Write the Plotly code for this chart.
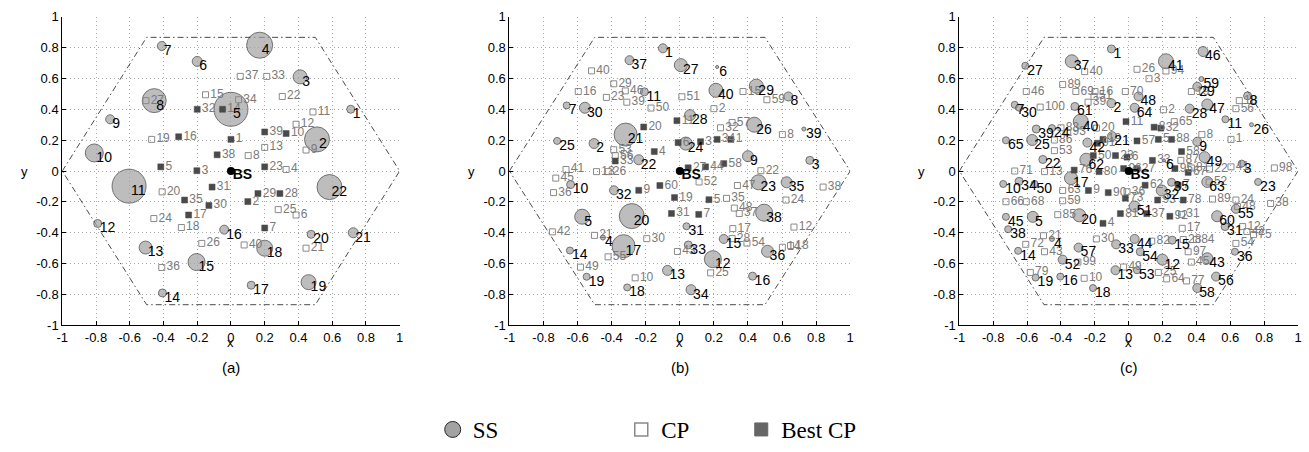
import plotly.graph_objects as go

W, H = 1309, 452

# ---------------- data ----------------
hex_x = [-1, -0.5, 0.5, 1, 0.5, -0.5, -1]
hex_y = [0, 0.866, 0.866, 0, -0.866, -0.866, 0]

bs_x = [0]
bs_y = [0]

# Panel (a)
a_ss_id = list(range(1, 23))
a_ss_x = [0.71, 0.51, 0.41, 0.17, 0.0, -0.20, -0.41, -0.455, -0.716, -0.81, -0.604,
          -0.79, -0.506, -0.406, -0.204, -0.04, 0.12, 0.20, 0.46, 0.475, 0.725, 0.584]
a_ss_y = [0.40, 0.205, 0.61, 0.815, 0.40, 0.71, 0.81, 0.456, 0.335, 0.117, -0.098,
          -0.34, -0.496, -0.79, -0.59, -0.38, -0.74, -0.50, -0.72, -0.41, -0.40, -0.104]
a_ss_d = [8, 25, 14, 26, 34, 10, 9, 24, 9, 18, 34, 8, 13, 8, 17, 9, 8, 16, 15, 8, 10, 25]

a_cp_id = [37, 33, 15, 34, 22, 11, 12, 19, 13, 8, 9, 4, 27, 20, 24, 18, 26, 36, 40, 25, 6, 21]
a_cp_x = [0.055, 0.212, -0.151, 0.045, 0.304, 0.486, 0.386, -0.47, 0.2, 0.102, 0.445,
          0.327, -0.504, -0.408, -0.457, -0.294, -0.173, -0.41, 0.078, 0.28, 0.386, 0.445]
a_cp_y = [0.613, 0.613, 0.494, 0.462, 0.483, 0.383, 0.303, 0.205, 0.153, 0.10, 0.136,
          0.01, 0.456, -0.135, -0.308, -0.366, -0.469, -0.625, -0.479, -0.25, -0.285, -0.50]

a_best_id = [32, 14, 39, 10, 16, 1, 38, 23, 5, 3, 31, 29, 28, 35, 2, 30, 17, 7]
a_best_x = [-0.20, -0.05, 0.2, 0.327, -0.31, 0.0, -0.082, 0.2, -0.416, -0.202, -0.112,
            0.16, 0.29, -0.275, 0.10, -0.131, -0.251, 0.2]
a_best_y = [0.40, 0.40, 0.253, 0.243, 0.222, 0.205, 0.105, 0.027, 0.027, 0.002, -0.104,
            -0.146, -0.146, -0.188, -0.198, -0.223, -0.285, -0.369]

# Panel (b)
b_ss_id = list(range(1, 41))
b_ss_x = [-0.099, -0.503, 0.763, -0.451, -0.573, 0.219, -0.664, 0.637, 0.40, -0.641,
          -0.208, 0.194, -0.072, -0.645, 0.258, 0.427, -0.33, -0.309, -0.547, -0.282,
          -0.318, -0.241, 0.462, 0.035, -0.72, 0.437, 0.006, 0.06, 0.449, -0.557,
          0.039, -0.386, 0.05, 0.066, 0.627, 0.515, -0.295, 0.495, 0.728, 0.212]
b_ss_y = [0.795, 0.178, 0.069, -0.431, -0.296, 0.674, 0.425, 0.483, 0.096, -0.088,
          0.513, -0.571, -0.644, -0.515, -0.44, -0.681, -0.487, -0.754, -0.685, -0.292,
          0.236, 0.073, -0.073, 0.178, 0.195, 0.30, 0.686, 0.362, 0.55, 0.41,
          -0.358, -0.125, -0.479, -0.769, -0.073, -0.52, 0.718, -0.27, 0.272, 0.523]
b_ss_d = [9, 10, 8, 5, 15, 3, 7, 9, 11, 8,
          8, 17, 10, 7, 9, 8, 23, 7, 7, 25,
          23, 10, 15, 13, 7, 15, 13, 11, 14, 11,
          7, 9, 8, 10, 11, 12, 9, 17, 4, 14]

b_cp_id = [40, 29, 16, 46, 23, 39, 50, 51, 2, 15, 59, 57, 32, 8, 53, 56, 41, 13, 26, 22,
           52, 47, 45, 36, 38, 24, 35, 48, 37, 42, 21, 30, 17, 12, 28, 54, 14, 18, 55,
           43, 49, 10, 25]
b_cp_x = [-0.518, -0.388, -0.596, -0.32, -0.431, -0.311, -0.169, 0.012, 0.2, 0.371,
          0.511, 0.307, 0.239, 0.602, -0.388, -0.379, -0.668, -0.489, -0.421, 0.476,
          0.113, 0.338, -0.728, -0.741, 0.841, 0.623, 0.274, 0.32, 0.349, -0.748,
          -0.501, -0.194, 0.311, 0.67, 0.307, 0.394, 0.602, 0.65, -0.421, -0.014,
          -0.583, -0.262, 0.181]
b_cp_y = [0.649, 0.565, 0.515, 0.519, 0.477, 0.446, 0.408, 0.481, 0.404, 0.515,
          0.462, 0.314, 0.28, 0.236, 0.138, 0.10, 0.01, -0.004, -0.004, 0.002,
          -0.071, -0.094, -0.046, -0.14, -0.104, -0.188, -0.177, -0.24, -0.275, -0.394,
          -0.417, -0.438, -0.373, -0.363, -0.438, -0.467, -0.494, -0.483, -0.556, -0.521,
          -0.623, -0.692, -0.66]

b_best_id = [20, 11, 6, 3, 34, 1, 4, 33, 58, 44, 27, 60, 9, 19, 5, 31, 7]
b_best_x = [-0.212, -0.017, -0.01, 0.122, 0.219, 0.30, -0.15, -0.379, 0.258, 0.151,
            0.049, -0.117, -0.241, -0.031, 0.171, -0.049, 0.111]
b_best_y = [0.285, 0.326, 0.184, 0.19, 0.205, 0.205, 0.126, 0.065, 0.048, 0.027,
            0.021, -0.094, -0.125, -0.172, -0.186, -0.275, -0.281]

# Panel (c)
c_ss_id = list(range(1, 66))
c_ss_x = [-0.102, -0.102, 0.667, -0.453, -0.566, 0.208, -0.673, 0.702, 0.405, -0.741,
          0.571, 0.199, -0.078, -0.653, 0.257, -0.404, -0.341, -0.211, -0.55, -0.292,
          -0.098, -0.507, 0.764, -0.453, -0.57, 0.725, -0.611, 0.36, 0.405, -0.647,
          0.569, 0.195, -0.074, -0.647, 0.253, 0.627, -0.336, -0.712, -0.546, -0.283,
          0.22, -0.244, 0.464, 0.035, -0.725, 0.439, 0.464, 0.058, 0.448, -0.556,
          0.035, -0.39, 0.049, 0.068, 0.633, 0.516, -0.296, 0.405, 0.429, 0.522,
          -0.318, -0.25, 0.464, 0.035, -0.725]
c_ss_y = [0.791, 0.439, 0.048, -0.44, -0.297, 0.069, 0.429, 0.487, 0.19, -0.084,
          0.335, -0.574, -0.643, -0.517, -0.448, -0.684, -0.046, -0.758, -0.69, -0.287,
          0.226, 0.075, -0.071, 0.278, 0.201, 0.30, 0.682, 0.404, 0.546, 0.41,
          -0.36, -0.126, -0.475, -0.067, -0.073, -0.523, 0.711, -0.377, 0.272, 0.32,
          0.711, 0.184, -0.565, -0.44, -0.297, 0.774, 0.431, 0.483, 0.09, -0.084,
          -0.23, -0.574, -0.643, -0.523, -0.245, -0.684, -0.496, -0.758, 0.596, -0.293,
          0.418, 0.073, -0.071, 0.41, 0.199]
c_ss_d = [8, 9, 7, 5, 11, 3, 7, 8, 9, 7,
          7, 11, 9, 7, 8, 7, 13, 7, 7, 13,
          9, 8, 7, 7, 11, 4, 7, 9, 9, 7,
          8, 11, 9, 8, 8, 7, 13, 7, 8, 15,
          15, 9, 11, 9, 7, 10, 11, 9, 11, 7,
          11, 9, 7, 8, 9, 9, 9, 9, 5, 11,
          8, 13, 11, 9, 7]

c_cp_id = [40, 46, 89, 69, 16, 51, 39, 100, 70, 26, 94, 3, 19, 2, 18, 56, 65, 86, 53, 83,
           93, 20, 71, 13, 63, 36, 66, 68, 59, 85, 21, 72, 43, 99, 30, 79, 10, 49, 31, 17,
           12, 42, 75, 82, 28, 84, 54, 97, 45, 25, 64, 77, 8, 1, 87, 81, 22, 41, 98, 52,
           89, 24, 48, 38]
c_cp_x = [-0.26, -0.605, -0.39, -0.312, -0.199, -0.205, -0.24, -0.523, -0.02, 0.049,
          0.22, 0.12, 0.37, 0.205, 0.653, 0.633, 0.269, -0.439, -0.439, -0.40,
          -0.36, -0.19, -0.673, -0.497, -0.39, -0.01, -0.725, -0.605, -0.39, -0.419,
          -0.503, -0.608, -0.497, -0.30, -0.191, -0.581, -0.263, -0.03, 0.312, 0.316,
          0.673, 0.698, 0.737, 0.136, 0.322, 0.40, 0.633, 0.351, 0.37, 0.175,
          0.224, 0.341, 0.432, 0.604, 0.308, 0.37, 0.477, 0.604, 0.86, 0.475,
          0.495, 0.633, 0.643, 0.838]
c_cp_y = [0.644, 0.515, 0.56, 0.515, 0.515, 0.483, 0.446, 0.414, 0.515, 0.659,
          0.648, 0.598, 0.515, 0.397, 0.456, 0.404, 0.32, 0.201, 0.132, 0.28,
          0.25, 0.278, 0.0, -0.004, -0.126, -0.134, -0.199, -0.199, -0.193, -0.283,
          -0.419, -0.475, -0.523, -0.59, -0.44, -0.657, -0.695, -0.622, -0.281, -0.371,
          -0.36, -0.392, -0.412, -0.454, -0.444, -0.444, -0.469, -0.523, -0.59, -0.657,
          -0.699, -0.712, 0.236, 0.205, 0.069, 0.02, 0.012, 0.027, 0.02, -0.071,
          -0.182, -0.188, -0.23, -0.21]

c_best_id = [11, 8, 32, 91, 19, 50, 23, 6, 76, 80, 96, 9, 90, 73, 4, 81, 57, 5, 88, 58,
             33, 95, 67, 27, 62, 7, 78, 93, 37, 92]
c_best_x = [-0.016, 0.15, 0.19, -0.185, -0.152, -0.209, -0.078, -0.01, -0.322, -0.175,
            -0.03, -0.238, -0.121, -0.02, -0.152, -0.049, 0.049, 0.175, 0.253, 0.312,
            0.14, 0.273, 0.351, 0.049, 0.097, 0.292, 0.322, 0.171, 0.107, 0.243]
c_best_y = [0.32, 0.284, 0.278, 0.18, 0.205, 0.10, 0.10, 0.09, 0.006, -0.004,
            0.016, -0.126, -0.14, -0.176, -0.339, -0.276, 0.195, 0.205, 0.205, 0.126,
            0.069, 0.016, -0.009, 0.016, -0.092, -0.092, -0.188, -0.188, -0.276, -0.293]

panel_names = ["(a)", "(b)", "(c)"]
tick_vals = [-1, -0.8, -0.6, -0.4, -0.2, 0, 0.2, 0.4, 0.6, 0.8, 1]
tick_text = ["-1", "-0.8", "-0.6", "-0.4", "-0.2", "0", "0.2", "0.4", "0.6", "0.8", "1"]

# ---------------- styling ----------------
SS_FILL = "#a2a2a2"
SS_EDGE = "#262626"
CP_EDGE = "#8a8a8a"
CP_TEXT = "#7a7a7a"
BEST_FILL = "#4a4a4a"
HEX_COL = "#4a4a4a"
FONT = "Liberation Sans"
SERIF = "Liberation Serif"

x_px = [(56.7, 396.7), (507.3, 850.7), (960.7, 1302.0)]
y_px = (10.0, 329.3)

panels = [
    (a_ss_id, a_ss_x, a_ss_y, a_ss_d, a_cp_id, a_cp_x, a_cp_y, a_best_id, a_best_x, a_best_y),
    (b_ss_id, b_ss_x, b_ss_y, b_ss_d, b_cp_id, b_cp_x, b_cp_y, b_best_id, b_best_x, b_best_y),
    (c_ss_id, c_ss_x, c_ss_y, c_ss_d, c_cp_id, c_cp_x, c_cp_y, c_best_id, c_best_x, c_best_y),
]

fig = go.Figure()

SS_DX, SS_DY = 0.012, -0.035
BS_DX, BS_DY = 0.01, -0.03

for i, (ssid, ssx, ssy, ssd, cpid, cpx, cpy, bid, bx, by) in enumerate(panels):
    xa = "x" if i == 0 else f"x{i+1}"
    ya = "y" if i == 0 else f"y{i+1}"
    fig.add_trace(go.Scatter(x=hex_x, y=hex_y, mode="lines", xaxis=xa, yaxis=ya,
                             line=dict(color=HEX_COL, width=1, dash="6px,3px,1.5px,3px"),
                             showlegend=False, hoverinfo="skip"))
    fig.add_trace(go.Scatter(x=ssx, y=ssy, mode="markers", xaxis=xa, yaxis=ya,
                             marker=dict(symbol="circle", size=ssd, color=SS_FILL,
                                         line=dict(color=SS_EDGE, width=0.9)),
                             showlegend=False, name="SS"))
    fig.add_trace(go.Scatter(x=cpx, y=cpy, mode="markers+text", xaxis=xa, yaxis=ya,
                             text=[str(v) for v in cpid], textposition="middle right",
                             textfont=dict(family=FONT, size=12, color=CP_TEXT),
                             marker=dict(symbol="square-open", size=6, color=CP_EDGE,
                                         line=dict(color=CP_EDGE, width=1)),
                             showlegend=False, name="CP", cliponaxis=False))
    fig.add_trace(go.Scatter(x=bx, y=by, mode="markers+text", xaxis=xa, yaxis=ya,
                             text=[str(v) for v in bid], textposition="middle right",
                             textfont=dict(family=FONT, size=12, color=CP_TEXT),
                             marker=dict(symbol="square", size=6, color=BEST_FILL,
                                         line=dict(color=BEST_FILL, width=0.5)),
                             showlegend=False, name="Best CP", cliponaxis=False))
    fig.add_trace(go.Scatter(x=[v + SS_DX for v in ssx], y=[v + SS_DY for v in ssy],
                             mode="text", xaxis=xa, yaxis=ya,
                             text=[str(v) for v in ssid], textposition="middle right",
                             textfont=dict(family=FONT, size=14, color="black"),
                             showlegend=False, hoverinfo="skip", cliponaxis=False))
    fig.add_trace(go.Scatter(x=bs_x, y=bs_y, mode="markers", xaxis=xa, yaxis=ya,
                             marker=dict(symbol="circle", size=8, color="black"),
                             showlegend=False, name="BS"))
    fig.add_trace(go.Scatter(x=[v + BS_DX for v in bs_x], y=[v + BS_DY for v in bs_y],
                             mode="text", xaxis=xa, yaxis=ya,
                             text=["<b>BS</b>"], textposition="middle right",
                             textfont=dict(family=FONT, size=14, color="black"),
                             showlegend=False, hoverinfo="skip"))

# legend entries
fig.add_trace(go.Scatter(x=[None], y=[None], mode="markers", name="SS", legend="legend",
                         marker=dict(symbol="circle", size=16, color=SS_FILL,
                                     line=dict(color=SS_EDGE, width=1))))
fig.add_trace(go.Scatter(x=[None], y=[None], mode="markers", name="CP", legend="legend2",
                         marker=dict(symbol="square-open", size=13, color=CP_EDGE,
                                     line=dict(color=CP_EDGE, width=1.5))))
fig.add_trace(go.Scatter(x=[None], y=[None], mode="markers", name="Best CP", legend="legend2",
                         marker=dict(symbol="square", size=13, color="#666666",
                                     line=dict(color="#666666", width=1))))

axis_common = dict(range=[-1, 1], tickmode="array", tickvals=tick_vals, ticktext=tick_text,
                   showgrid=True, gridcolor="#a9a9a9", griddash="1px,3px", gridwidth=1,
                   zeroline=False, showline=True, linecolor="black", linewidth=1,
                   ticks="inside", ticklen=4, tickcolor="black",
                   tickfont=dict(family=FONT, size=13, color="black"),
                   fixedrange=True)

leg_y = 1 - 437 / H
leg_common = dict(orientation="h", xanchor="left", y=leg_y, yanchor="middle",
                  font=dict(family=SERIF, size=23, color="black"),
                  itemsizing="trace", bgcolor="rgba(0,0,0,0)")

layout = dict(margin=dict(l=0, r=0, t=0, b=0), autosize=True,
              plot_bgcolor="white", paper_bgcolor="white",
              font=dict(family=FONT, color="black"),
              showlegend=True,
              legend=dict(leg_common, x=430 / W),
              legend2=dict(leg_common, x=620 / W, entrywidth=75,
                           entrywidthmode="pixels"))

annotations = []
for i in range(3):
    xk = "xaxis" if i == 0 else f"xaxis{i+1}"
    yk = "yaxis" if i == 0 else f"yaxis{i+1}"
    x0, x1 = x_px[i]
    layout[xk] = dict(axis_common, domain=[x0 / W, x1 / W],
                      anchor="y" if i == 0 else f"y{i+1}")
    layout[yk] = dict(axis_common, domain=[1 - y_px[1] / H, 1 - y_px[0] / H],
                      anchor="x" if i == 0 else f"x{i+1}")
    xc = (x0 + x1) / 2
    annotations.append(dict(text="x", x=xc / W, y=1 - 347 / H, xref="paper", yref="paper",
                            xanchor="center", yanchor="middle",
                            showarrow=False, font=dict(family=FONT, size=13)))
    annotations.append(dict(text="y", x=(x0 - 38) / W, y=1 - 170 / H, xref="paper",
                            yref="paper", xanchor="center", yanchor="middle",
                            showarrow=False, font=dict(family=FONT, size=13)))
    annotations.append(dict(text=panel_names[i], x=xc / W, y=1 - 373 / H, xref="paper",
                            yref="paper", xanchor="center", yanchor="middle",
                            showarrow=False, font=dict(family=FONT, size=15)))
layout["annotations"] = annotations

fig.update_layout(**layout)
# The graph div is pinned to the top-left corner of the page at exactly 1309x452 px,
# so that the page has the size of the browser window.
fig.write_html("out.html",
               default_width=f"{W}px",
               default_height=f"{H}px;position:absolute;top:0;left:0",
               config={"displayModeBar": False})
